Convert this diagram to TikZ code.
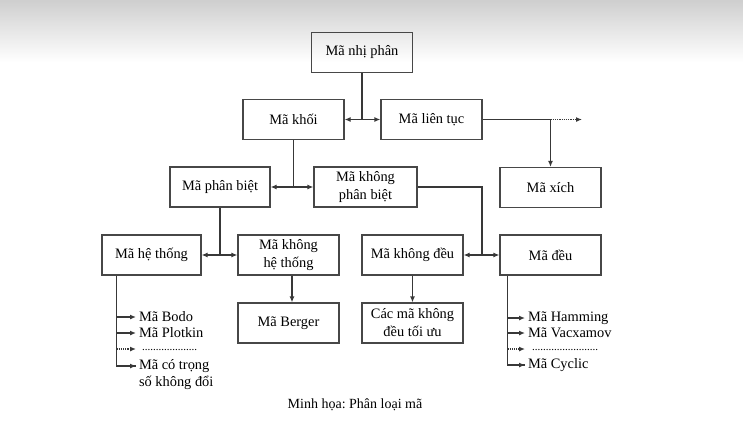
\documentclass[tikz,border=0pt]{standalone}
\usepackage{fontspec}
\setmainfont{Liberation Serif}
\usetikzlibrary{arrows.meta}
\frenchspacing
\begin{document}
\begin{tikzpicture}[x=1pt,y=-1pt,
  box/.style={draw=black!72,line width=1.2pt,minimum width=101pt,minimum height=40pt,inner sep=0pt,align=center,
    font=\fontsize{14.4}{18}\selectfont},
  item/.style={inner sep=0pt,outer sep=3pt,anchor=west,align=left,font=\fontsize{14.4}{17}\selectfont},
  conn/.style={draw=black!78,line width=1.2pt},
  arr/.style={conn,-{Latex[length=6pt,width=5pt]}},
  dotarr/.style={arr,densely dotted}]
\useasboundingbox (0,0) rectangle (743,437);
\shade[top color=black!19,bottom color=white] (0,0) rectangle (743,62);
\fill[white] (0,62) rectangle (743,437);

\node[box] (np) at (362,52.5) {Mã nhị phân};
\node[box] (khoi) at (293.5,119.5) {Mã khối};
\node[box] (lt) at (431.5,119.5) {Mã liên tục};
\node[box] (xich) at (550.5,187.5) {Mã xích};
\node[box,minimum width=100pt] (pb) at (220,187) {Mã phân biệt};
\node[box,minimum width=103pt] (kpb) at (365.5,187) {Mã không\\phân biệt};
\node[box,minimum width=99pt] (ht) at (151.5,255) {Mã hệ thống};
\node[box] (kht) at (288.5,255) {Mã không\\hệ thống};
\node[box] (berger) at (288.5,323) {Mã Berger};
\node[box] (kd) at (412.5,255) {Mã không đều};
\node[box] (deu) at (550.5,255) {Mã đều};
\node[box] (toiuu) at (412.5,323) {Các mã không\\đều tối ưu};

% top level
\coordinate (j1) at (np.south |- khoi.east);
\draw[conn] (np.south) -- (j1);
\draw[arr] (j1) -- (khoi.east);
\draw[arr] (j1) -- (lt.west);
% khoi
\coordinate (j2) at (khoi.south |- pb.east);
\draw[conn] (khoi.south) -- (j2);
\draw[arr] (j2) -- (pb.east);
\draw[arr] (j2) -- (kpb.west);
% lien tuc
\coordinate (j3) at (xich.north |- lt.east);
\coordinate (ltend) at (582,119.5);
\draw[conn] (lt.east) -- (j3);
\draw[arr] (j3) -- (xich.north);
\draw[dotarr] (j3) -- (ltend);
% phan biet
\coordinate (j4) at (pb.south |- ht.east);
\draw[conn] (pb.south) -- (j4);
\draw[arr] (j4) -- (ht.east);
\draw[arr] (j4) -- (kht.west);
% khong phan biet
\coordinate (j5a) at (482,187);
\coordinate (j5) at (j5a |- kd.east);
\draw[conn] (kpb.east) -- (j5a) -- (j5);
\draw[arr] (j5) -- (kd.east);
\draw[arr] (j5) -- (deu.west);
% down arrows
\draw[arr] ([xshift=3.5pt]kht.south) -- ([xshift=3.5pt]berger.north);
\draw[arr] (kd.south) -- (toiuu.north);

% list under he thong
\coordinate (t1) at ([xshift=15pt]ht.south west);
\node[item] (bodo) at (136,317) {Mã Bodo};
\node[item] (plotkin) at (136,333) {Mã Plotkin};
\node[item,font=\fontsize{11}{12}\selectfont] (dots1) at (139,350) {....................};
\node[item] (trong) at (136,374.5) {Mã có trọng\\số không đổi};
\coordinate (tr1) at ([yshift=8.5pt]trong.west);
\draw[conn] (t1) |- (tr1);
\draw[arr] (t1 |- bodo.west) -- (bodo.west);
\draw[arr] (t1 |- plotkin.west) -- (plotkin.west);
\coordinate (d1) at (136,349);
\draw[dotarr] (t1 |- d1) -- (d1);
\draw[arr] (t1 |- tr1) -- (tr1);

% list under deu
\coordinate (t2) at ([xshift=8pt]deu.south west);
\node[item] (hamming) at (525,318) {Mã Hamming};
\node[item] (vac) at (525,333) {Mã Vacxamov};
\node[item,font=\fontsize{11}{12}\selectfont] (dots2) at (529,350) {........................};
\node[item] (cyclic) at (525,365) {Mã Cyclic};
\draw[conn] (t2) |- (cyclic.west);
\draw[arr] (t2 |- hamming.west) -- (hamming.west);
\draw[arr] (t2 |- vac.west) -- (vac.west);
\coordinate (d2) at (525,349);
\draw[dotarr] (t2 |- d2) -- (d2);
\draw[arr] (t2 |- cyclic.west) -- (cyclic.west);

\node[font=\fontsize{14}{17}\selectfont,inner sep=0pt] (cap) at (355,405) {Minh họa: Phân loại mã};
\end{tikzpicture}
\end{document}
